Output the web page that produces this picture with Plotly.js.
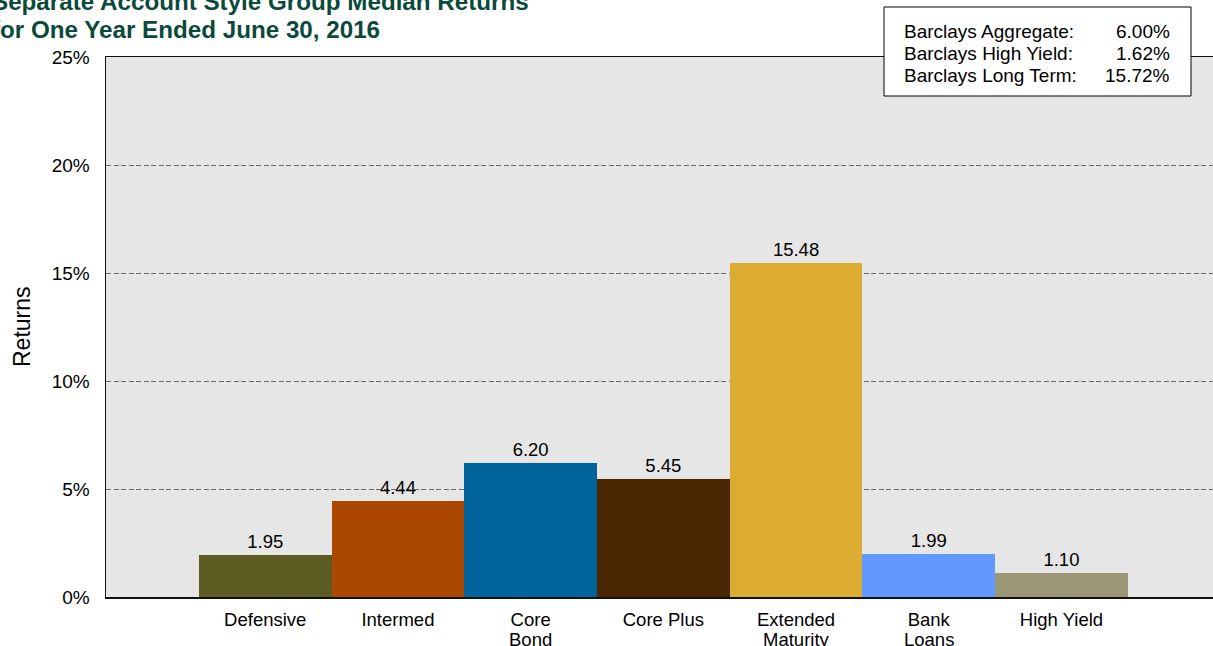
<!DOCTYPE html>
<html><head><meta charset="utf-8">
<script src="https://cdn.plot.ly/plotly-3.0.1.min.js"></script>
<style>html,body{margin:0;padding:0;background:#fff}#chart{width:1213px;height:646px}</style>
</head><body><div id="chart"></div>
<script>
const categories = ["Defensive","Intermed","Core<br>Bond","Core Plus","Extended<br>Maturity","Bank<br>Loans","High Yield"];
const returns = [1.95, 4.44, 6.20, 5.45, 15.48, 1.99, 1.10];
const barColors = ["#5c5c22","#ab4700","#00649b","#4a2700","#dcab31","#6199ff","#9b9878"];
const benchNames = ["Barclays Aggregate:","Barclays High Yield:","Barclays Long Term:"];
const benchValues = ["6.00%","1.62%","15.72%"];
const yTicks = [0,5,10,15,20,25];
const yTickText = ["0%","5%","10%","15%","20%","25%"];
const titleLines = ["Separate Account Style Group Median Returns","for One Year Ended June 30, 2016"];

const W=1213,H=646,L=106,T=57,B=49,R=0;
const pw=W-L-R, ph=H-T-B;
const px=x=>(x-L)/pw, py=y=>(H-B-y)/ph;
const font="Liberation Sans, Arial, Helvetica, sans-serif";
const idx=categories.map((c,i)=>i);
const firstLines=categories.map(c=>c.split('<br>')[0]);

const trace={type:'bar',x:idx,y:returns,
  marker:{color:barColors,line:{width:0}},
  text:returns.map(v=>v.toFixed(2)),textposition:'outside',
  textfont:{family:font,size:18.5,color:'#000'},cliponaxis:false,hoverinfo:'none'};

const ann=[];
const titleY=[2,30];
titleLines.forEach((t,i)=>ann.push({xref:'paper',yref:'paper',x:px(-10),y:py(titleY[i]),
  xanchor:'left',yanchor:'middle',showarrow:false,text:'<b>'+t+'</b>',
  font:{family:font,size:24.2,color:'#0b4a3b'}}));
ann.push({xref:'paper',yref:'paper',x:px(22),y:0.5,textangle:-90,showarrow:false,
  xanchor:'center',yanchor:'middle',text:'Returns',font:{family:font,size:23,color:'#000'}});
const rowY=[31,53,75];
benchNames.forEach((n,i)=>{
  ann.push({xref:'paper',yref:'paper',x:px(902),y:py(rowY[i]),xanchor:'left',yanchor:'middle',
    showarrow:false,text:n,font:{family:font,size:19,color:'#000'}});
  ann.push({xref:'paper',yref:'paper',x:px(1172),y:py(rowY[i]),xanchor:'right',yanchor:'middle',
    showarrow:false,text:benchValues[i],font:{family:font,size:19,color:'#000'}});
});
categories.forEach((c,i)=>{
  const parts=c.split('<br>');
  if(parts.length>1) ann.push({xref:'x',yref:'paper',x:i,y:py(639),xanchor:'center',yanchor:'middle',
    showarrow:false,text:parts[1],font:{family:font,size:18.5,color:'#000'}});
});

const layout={width:W,height:H,margin:{l:L,r:R,t:T,b:B,pad:0},
  paper_bgcolor:'#fff',plot_bgcolor:'#e6e6e6',showlegend:false,bargap:0,
  xaxis:{range:[-1.2,-1.2+pw/132.7],tickvals:idx,ticktext:firstLines,
    showgrid:false,zeroline:false,showline:true,linecolor:'#111',linewidth:1.5,mirror:true,
    ticks:'',ticklabelstandoff:5,tickfont:{family:font,size:18.5,color:'#000'},fixedrange:true},
  yaxis:{range:[0,25],tickvals:yTicks,ticktext:yTickText,showgrid:true,gridcolor:'#6a6a6a',
    griddash:'5px,2.5px',gridwidth:1,zeroline:false,showline:true,linecolor:'#111',linewidth:1.5,
    ticks:'',ticklabelstandoff:11,tickfont:{family:font,size:19,color:'#000'},fixedrange:true},
  shapes:[{type:'rect',xref:'paper',yref:'paper',x0:px(884),x1:px(1191),y0:py(96),y1:py(7),
    fillcolor:'#fff',line:{color:'#000',width:1},layer:'above'}],
  annotations:ann};
Plotly.newPlot('chart',[trace],layout,{staticPlot:true,displayModeBar:false});
</script></body></html>
